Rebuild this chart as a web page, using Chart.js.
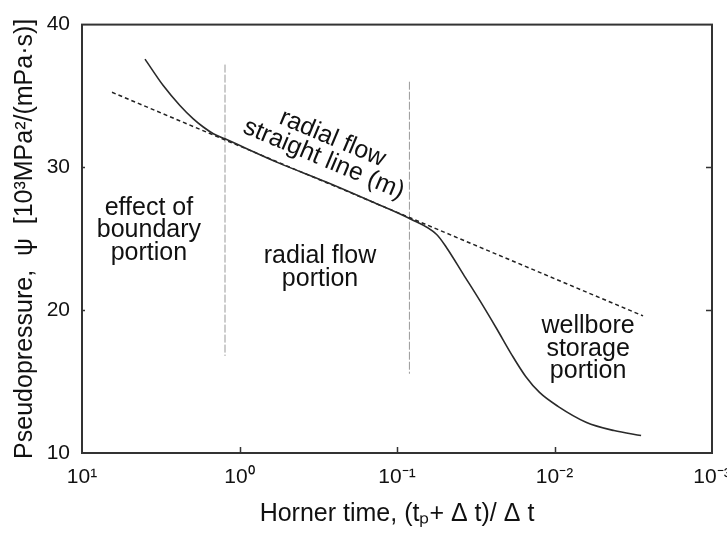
<!DOCTYPE html>
<html><head><meta charset="utf-8">
<script src="https://cdn.jsdelivr.net/npm/chart.js@4"></script>
<style>html,body{margin:0;padding:0;background:#fff}#wrap{width:727px;height:536px}</style>
</head><body><div id="wrap"><canvas id="c" width="727" height="536"></canvas></div>
<script>
// ---- data ----
const curveX = [3.98, 3.05, 2.39, 1.965, 1.698, 1.466, 1.236, 0.561, 0.284, 0.144, 0.0826, 0.056, 0.0483, 0.0379, 0.0297, 0.02328, 0.01871, 0.01524, 0.01245, 0.00951, 0.00631, 0.00419, 0.00282];
const curveY = [37.58, 35.73, 34.34, 33.40, 32.83, 32.36, 32.0, 30.3, 29.0, 27.6, 26.4, 25.3, 24.36, 22.51, 20.65, 18.70, 16.89, 15.36, 14.24, 13.27, 12.16, 11.57, 11.22];
const lineX = [6.45, 0.00274];
const lineY = [35.26, 19.6];
const bound1X = [1.236, 1.236];
const bound1Y = [37.2, 16.8];
const bound2X = [0.0834, 0.0834];
const bound2Y = [36.0, 15.55];
const xTickValues = [10, 1, 0.1, 0.01, 0.001];
const xTickLabels = ['10¹', '10⁰', '10⁻¹', '10⁻²', '10⁻³'];
const yTickValues = [10, 20, 30, 40];
const xTitle = 'Horner time, (tₚ+ Δ t)/ Δ t';
const yTitle = 'Pseudopressure,  ψ  [10³MPa²/(mPa·s)]';
const regionTexts = [
  {lines: ['effect of', 'boundary', 'portion'], x: 3.76, y: 25.59},
  {lines: ['radial flow', 'portion'], x: 0.308, y: 23.0},
  {lines: ['wellbore', 'storage', 'portion'], x: 0.00612, y: 17.31},
  {lines: ['radial flow', 'straight line (m)'], x: 0.274, y: 31.3, alongLine: true}
];

const FONT = '"Liberation Sans", Arial, Helvetica, sans-serif';
Chart.defaults.font.family = FONT;
Chart.defaults.color = '#111';

const pts = (xs, ys) => xs.map((x, i) => ({x: x, y: ys[i]}));

const framePlugin = {
  id: 'frame',
  afterDatasetsDraw(chart) {
    const {ctx, chartArea: a, scales: {x, y}} = chart;
    ctx.save();
    ctx.strokeStyle = '#333';
    ctx.lineWidth = 2;
    ctx.strokeRect(a.left, a.top, a.right - a.left, a.bottom - a.top);
    ctx.lineWidth = 1.5;
    ctx.beginPath();
    xTickValues.forEach(v => {
      const px = Math.round(x.getPixelForValue(v)) + 0.5;
      if (px > a.left + 2 && px < a.right - 2) { ctx.moveTo(px, a.bottom); ctx.lineTo(px, a.bottom - 6); }
    });
    yTickValues.forEach(v => {
      const py = Math.round(y.getPixelForValue(v)) + 0.5;
      if (py > a.top + 2 && py < a.bottom - 2) {
        ctx.moveTo(a.left, py); ctx.lineTo(a.left + 3, py);
        ctx.moveTo(a.right, py); ctx.lineTo(a.right - 6, py);
      }
    });
    ctx.stroke();

    // region annotations
    ctx.fillStyle = '#111';
    ctx.font = '25px ' + FONT;
    ctx.textAlign = 'center';
    ctx.textBaseline = 'middle';
    const step = 22.5;
    const ang = Math.atan2(y.getPixelForValue(lineY[1]) - y.getPixelForValue(lineY[0]),
                           x.getPixelForValue(lineX[1]) - x.getPixelForValue(lineX[0]));
    regionTexts.forEach(t => {
      const cx = x.getPixelForValue(t.x), cy = y.getPixelForValue(t.y);
      ctx.save();
      ctx.translate(cx, cy);
      if (t.alongLine) ctx.rotate(ang);
      const off = -(t.lines.length - 1) / 2 * step;
      t.lines.forEach((s, i) => ctx.fillText(s, 0, off + i * step));
      ctx.restore();
    });
    ctx.restore();
  }
};

new Chart(document.getElementById('c'), {
  type: 'scatter',
  data: {
    datasets: [
      {label: 'pseudopressure', data: pts(curveX, curveY), showLine: true, borderColor: '#2a2a2a', borderWidth: 1.6, pointRadius: 0, cubicInterpolationMode: 'monotone', fill: false},
      {label: 'radial flow straight line', data: pts(lineX, lineY), showLine: true, borderColor: '#222', borderWidth: 1.5, borderDash: [4, 3], pointRadius: 0},
      {label: 'boundary 1', data: pts(bound1X, bound1Y), showLine: true, borderColor: '#999', borderWidth: 1, borderDash: [8, 2], pointRadius: 0},
      {label: 'boundary 2', data: pts(bound2X, bound2Y), showLine: true, borderColor: '#999', borderWidth: 1, borderDash: [8, 2], pointRadius: 0}
    ]
  },
  options: {
    responsive: false,
    animation: false,
    devicePixelRatio: 1,
    layout: {padding: {top: 21, right: 15, left: 0, bottom: 0}},
    plugins: {legend: {display: false}, tooltip: {enabled: false}},
    scales: {
      x: {
        type: 'logarithmic', reverse: true, min: 0.001, max: 10,
        grid: {display: false, drawTicks: false}, border: {display: false},
        afterBuildTicks: s => { s.ticks = xTickValues.map(v => ({value: v, major: true})); },
        ticks: {autoSkip: false, maxRotation: 0, minRotation: 0, padding: 12, font: {size: 21}, color: '#111',
          callback: v => xTickLabels[xTickValues.indexOf(v)]},
        title: {display: true, text: xTitle, font: {size: 25}, color: '#111', padding: {top: 0, bottom: 7}},
        afterFit: s => { s.height = 83; s.paddingLeft = 0; s.paddingRight = 0; }
      },
      y: {
        type: 'linear', min: 10, max: 40,
        grid: {display: false, drawTicks: false}, border: {display: false},
        afterBuildTicks: s => { s.ticks = yTickValues.map(v => ({value: v})); },
        ticks: {padding: 12, font: {size: 21}, color: '#111'},
        title: {display: true, text: yTitle, font: {size: 25}, color: '#111', padding: {top: 10, bottom: 0}},
        afterFit: s => { s.width = 82; }
      }
    }
  },
  plugins: [framePlugin]
});
</script>
</body></html>
